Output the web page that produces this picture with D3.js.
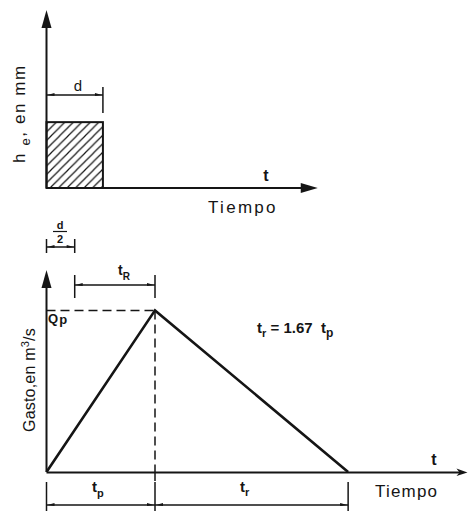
<!DOCTYPE html>
<html><head><meta charset="utf-8">
<script src="https://cdn.jsdelivr.net/npm/d3@7"></script>
<style>
body{margin:0;background:#fff}
text{font-family:"Liberation Sans",Arial,sans-serif;fill:#151515}
</style>
</head><body>
<svg id="c" width="469" height="511"></svg>
<script>
// ---------- data (time in units of tp, values relative) ----------
const hydroTime = [0, 1, 2.78];        // start, peak (tp), end of hydrograph
const hydroFlow = [0, 0.80, 0];        // discharge: 0, Qp, 0
const rainTime = [0, 0.52];            // rainfall duration d
const rainDepth = [0.37];              // excess rainfall he
const halfDuration = [0, 0.26];        // d/2
const axisExtentTop = [0, 2.5];
const axisExtentBottom = [0, 3.88];
const yLabelTop = ["h", "e", ", en mm"];
const yLabelBottom = ["Gasto,en m", "3", "/s"];
const xLabel = "Tiempo";
const relationText = ["t", "r", " = 1.67  t", "p"];

// ---------- scales ----------
const x = d3.scaleLinear().domain([0, 1]).range([46.5, 155]);
const yTop = d3.scaleLinear().domain([0, 1]).range([188, 10]);
const yBot = d3.scaleLinear().domain([0, 1]).range([472, 270]);

const svg = d3.select("#c");
const ink = "#151515";

// hatch pattern
const defs = svg.append("defs");
const pat = defs.append("pattern").attr("id", "hatch").attr("patternUnits", "userSpaceOnUse")
  .attr("width", 8.5).attr("height", 8.5);
pat.append("path").attr("d", "M-1,9.5 L9.5,-1 M-3,3 L3,-3 M5.5,11.5 L11.5,5.5")
  .attr("stroke", ink).attr("stroke-width", 1.2);

function line(x1, y1, x2, y2, w, dash) {
  const l = svg.append("line").attr("x1", x1).attr("y1", y1).attr("x2", x2).attr("y2", y2)
    .attr("stroke", ink).attr("stroke-width", w || 2);
  if (dash) l.attr("stroke-dasharray", dash);
  return l;
}
function tri(pts) {
  svg.append("path").attr("d", "M" + pts.map(p => p.join(",")).join("L") + "Z").attr("fill", ink);
}
function dimArrows(xa, xb, y) {
  tri([[xa, y], [xa + 7, y - 2], [xa + 7, y + 1]]);
  tri([[xb, y], [xb - 7, y - 2], [xb - 7, y + 1]]);
}

// ================= TOP CHART =================
const x0 = x(0);
// rainfall block
svg.append("rect").attr("x", x(rainTime[0])).attr("y", yTop(rainDepth[0]))
  .attr("width", x(rainTime[1]) - x(rainTime[0])).attr("height", yTop(0) - yTop(rainDepth[0]))
  .attr("fill", "url(#hatch)").attr("stroke", ink).attr("stroke-width", 2);
// axes
line(x0, yTop(0), x0, yTop(1) + 14, 2);
tri([[x0, yTop(1)], [x0 - 5, yTop(1) + 18], [x0 + 5, yTop(1) + 18]]);
line(x0, yTop(0), x(axisExtentTop[1]) - 14, yTop(0), 2);
tri([[x(axisExtentTop[1]), yTop(0)], [x(axisExtentTop[1]) - 17, yTop(0) - 5], [x(axisExtentTop[1]) - 17, yTop(0) + 5]]);
// d dimension
line(x(rainTime[0]), 95, x(rainTime[1]), 95, 1.5);
line(x(rainTime[1]), 87, x(rainTime[1]), 113, 1.5);
dimArrows(x(rainTime[0]) + 1, x(rainTime[1]) - 1, 95);
svg.append("text").attr("x", 78).attr("y", 91).attr("text-anchor", "middle")
  .style("font-size", "15px").text("d");
// labels
svg.append("text").attr("x", 266).attr("y", 181).attr("text-anchor", "middle")
  .style("font-size", "16px").style("font-weight", "bold").text("t");
svg.append("text").attr("x", 208).attr("y", 213).style("font-size", "17px")
  .style("letter-spacing", "2.3px").text(xLabel);
const lt = svg.append("text").attr("transform", "translate(25,163) rotate(-90)")
  .style("font-size", "17px").style("letter-spacing", "1.6px");
lt.append("tspan").text(yLabelTop[0] + " ");
lt.append("tspan").attr("dy", 5).style("font-size", "13px").text(yLabelTop[1]);
lt.append("tspan").attr("dy", -5).text(yLabelTop[2]);

// ================= BOTTOM CHART =================
// d/2 dimension
const hx0 = x(halfDuration[0]), hx1 = x(halfDuration[1]);
line(hx0, 239, hx0, 253, 1.5);
line(hx1, 239, hx1, 253, 1.5);
line(hx0, 247, hx1, 247, 1.5);
dimArrows(hx0 + 1, hx1 - 1, 247);
svg.append("text").attr("x", 60).attr("y", 228.5).attr("text-anchor", "middle")
  .style("font-size", "11px").style("font-weight", "bold").text("d");
line(53, 231.5, 67, 231.5, 1.2);
svg.append("text").attr("x", 60).attr("y", 243).attr("text-anchor", "middle")
  .style("font-size", "11px").style("font-weight", "bold").text("2");

// tR dimension
const px = x(hydroTime[1]), py = yBot(hydroFlow[1]);
line(hx1, 275, hx1, 298, 1.5);
line(px, 275, px, 298, 1.5);
line(hx1, 285, px, 285, 1.5);
dimArrows(hx1 + 1, px - 1, 285);
const tR = svg.append("text").attr("x", 118).attr("y", 275).style("font-size", "14px").style("font-weight", "bold");
tR.append("tspan").text("t");
tR.append("tspan").attr("dy", 5).style("font-size", "10px").text("R");

// dashed guides
line(x0, py, px, py, 1.5, "9,5");
line(px, py, px, yBot(0), 1.5, "9,5");
line(px, yBot(0), px, 482, 1.5, "9,5");

// axes
line(x0, yBot(0), x0, yBot(1) + 14, 2);
tri([[x0, yBot(1)], [x0 - 5, yBot(1) + 18], [x0 + 5, yBot(1) + 18]]);
const xe = x(axisExtentBottom[1]);
line(x0, yBot(0) + 0.5, xe - 6, yBot(0) + 0.5, 2);
tri([[xe, yBot(0) + 0.5], [xe - 11, yBot(0) - 3.5], [xe - 8, yBot(0) + 0.5], [xe - 11, yBot(0) + 4]]);

// hydrograph
svg.append("path")
  .datum(hydroTime.map((t, i) => [t, hydroFlow[i]]))
  .attr("d", d3.line().x(d => x(d[0])).y(d => yBot(d[1])))
  .attr("fill", "none").attr("stroke", ink).attr("stroke-width", 2.6).attr("stroke-linejoin", "miter");

// Qp label
const qp = svg.append("text").attr("x", 48).attr("y", 323).style("font-size", "13px").style("font-weight", "bold");
qp.append("tspan").text("Q");
qp.append("tspan").attr("dx", 1).attr("dy", 1).text("p");

// relation text
const rel = svg.append("text").attr("x", 257).attr("y", 333).style("font-size", "15px").style("font-weight", "bold");
rel.append("tspan").text(relationText[0]);
rel.append("tspan").attr("dy", 4).style("font-size", "11px").text(relationText[1]);
rel.append("tspan").attr("dy", -4).attr("xml:space", "preserve").style("white-space", "pre").text(relationText[2]);
rel.append("tspan").attr("dy", 4).style("font-size", "12px").text(relationText[3]);

// bottom dimensions
const xEnd = x(hydroTime[2]);
[x0, px, xEnd].forEach(v => line(v, 482, v, 511, 1.5));
line(x0, 505, xEnd, 505, 1.5);
dimArrows(x0 + 1, px - 1, 505);
dimArrows(px + 1, xEnd - 1, 505);
const tpL = svg.append("text").attr("x", 92).attr("y", 492).style("font-size", "15px").style("font-weight", "bold");
tpL.append("tspan").text("t");
tpL.append("tspan").attr("dy", 5).style("font-size", "11px").text("p");
const trL = svg.append("text").attr("x", 240).attr("y", 492).style("font-size", "15px").style("font-weight", "bold");
trL.append("tspan").text("t");
trL.append("tspan").attr("dy", 4).style("font-size", "11px").text("r");

// bottom axis labels
svg.append("text").attr("x", 434).attr("y", 465).attr("text-anchor", "middle")
  .style("font-size", "16px").style("font-weight", "bold").text("t");
svg.append("text").attr("x", 375).attr("y", 497).style("font-size", "17px")
  .style("letter-spacing", "1.2px").text(xLabel);
const lb = svg.append("text").attr("transform", "translate(35,432) rotate(-90)")
  .style("font-size", "16px").style("letter-spacing", "0.2px");
lb.append("tspan").text(yLabelBottom[0]);
lb.append("tspan").attr("dy", -6).style("font-size", "11px").text(yLabelBottom[1]);
lb.append("tspan").attr("dy", 6).text(yLabelBottom[2]);
</script>
</body></html>
